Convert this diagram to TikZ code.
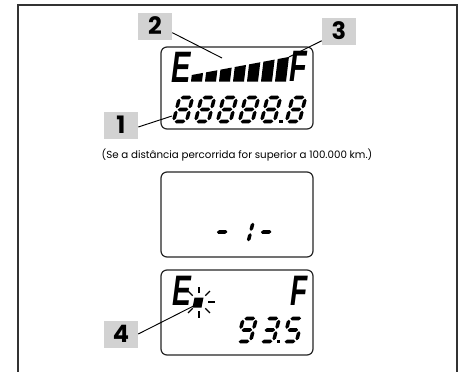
\documentclass[tikz,border=0pt]{standalone}
\usepackage{fontspec}
\setmainfont{Poppins}
\newfontfamily\lcdfont{Liberation Sans}
\newcommand\dW{13}
\newcommand\dH{24}
\newcommand\dG{1.2}
\newcommand\dT{3.6}
\newcommand\lcdhseg[3]{\fill (#1,#3) -- ({#1+\dT/2},{#3-\dT/2}) -- ({#2-\dT/2},{#3-\dT/2}) -- (#2,#3) -- ({#2-\dT/2},{#3+\dT/2}) -- ({#1+\dT/2},{#3+\dT/2}) -- cycle;}
\newcommand\lcdvseg[3]{\fill (#1,#2) -- ({#1+\dT/2},{#2+\dT/2}) -- ({#1+\dT/2},{#3-\dT/2}) -- (#1,#3) -- ({#1-\dT/2},{#3-\dT/2}) -- ({#1-\dT/2},{#2+\dT/2}) -- cycle;}
\newcommand\lcdsega{\lcdhseg{\dG}{\dW-\dG}{-\dH}}
\newcommand\lcdsegb{\lcdvseg{\dW}{-\dH+\dG}{-\dH/2-\dG}}
\newcommand\lcdsegc{\lcdvseg{\dW}{-\dH/2+\dG}{-\dG}}
\newcommand\lcdsegd{\lcdhseg{\dG}{\dW-\dG}{0}}
\newcommand\lcdsege{\lcdvseg{0}{-\dH/2+\dG}{-\dG}}
\newcommand\lcdsegf{\lcdvseg{0}{-\dH+\dG}{-\dH/2-\dG}}
\newcommand\lcdsegg{\lcdhseg{\dG}{\dW-\dG}{-\dH/2}}
\newcommand\lcddigit[3]{\begin{scope}[shift={(#1,#2)},xslant=0.25]\foreach \s in {#3}{\csname lcdseg\s\endcsname}\end{scope}}
\begin{document}
\begin{tikzpicture}[x=0.75pt,y=-0.75pt,
  frame/.style={draw=black!80,line width=1.2pt},
  disp/.style={draw=black!85,line width=0.9pt,rounded corners=4.5pt,minimum width=114pt,inner sep=0pt},
  lbl/.style={fill=gray!35,minimum width=25.5pt,minimum height=20.25pt,inner sep=0pt,font=\fontsize{18}{18}\selectfont\bfseries},
  leader/.style={draw=black,line width=0.7pt},
  lcdtxt/.style={font=\lcdfont\fontsize{33}{33}\selectfont\bfseries\itshape,xscale=0.66,inner sep=0pt,anchor=base},
  ray/.style={draw=black,line width=1pt},
  note/.style={font=\fontsize{7.7}{9}\selectfont}]
\useasboundingbox (0,0) rectangle (459,371);
\fill[white] (0,0) rectangle (459,371);
% outer frame
\draw[frame] (18,372) -- (18,5) -- (457,5) -- (457,372);
% displays
\node[disp,minimum height=61.5pt] (d1) at (237,88) {};
\node[disp,minimum height=63.75pt] (d2) at (237,214.5) {};
\node[disp,minimum height=63.75pt] (d3) at (237,312.5) {};
% display 1: E, bars, F
\node[lcdtxt] (e1) at (181,82) {E};
\node[lcdtxt] (f1) at (298.5,81.5) {F};
\foreach \i in {0,...,6}{
  \pgfmathsetmacro\xl{191+14*\i}
  \pgfmathsetmacro\xr{\xl+11}
  \pgfmathsetmacro\yl{75-0.19*(\xl-191)}
  \pgfmathsetmacro\yr{75-0.19*(\xr-191)}
  \fill (\xl,81.5) -- (\xr,81.5) -- ({\xr+0.12*(81.5-\yr)},\yr) -- ({\xl+0.12*(81.5-\yl)},\yl) -- cycle;
}
% display 1 digits 88888.8
\foreach \x in {173.5,195.5,217.5,239.5,261.5,286.5}{\lcddigit{\x}{121.5}{a,b,c,d,e,f,g}}
\fill (279.3,119.7) rectangle (282.7,123.2);
% display 2: - 1-
\def\dH{21}
\lcddigit{213}{242.5}{g}
\lcddigit{235}{242.5}{b,c}
\lcddigit{257}{242.5}{g}
% display 3
\def\dH{23}
\node[lcdtxt,font=\lcdfont\fontsize{32}{32}\selectfont\bfseries\itshape] (e3) at (181.5,305) {E};
\node[lcdtxt,font=\lcdfont\fontsize{32}{32}\selectfont\bfseries\itshape] (f3) at (299.5,305) {F};
\fill (192.5,307.5) -- (201.5,307.5) -- (203.5,297.5) -- (194.5,297.5) -- cycle;
\begin{scope}[shift={(199,302)}]
  \foreach \a in {0,45,90,135,-45,-90,-135} \draw[ray] (\a:9) -- (\a:15.5);
\end{scope}
\lcddigit{237.5}{341.5}{a,b,c,d,f,g}
\lcddigit{260.5}{341.5}{a,b,c,d,g}
\lcddigit{283.5}{341.5}{a,c,d,f,g}
\fill (276.8,339.7) rectangle (280.2,343.2);
% note
\node[note] (n) at (237,155) {(Se a distância percorrida for superior a 100.000 km.)};
% labels
\node[lbl] (l1) at (121,125) {1};
\node[lbl] (l2) at (155,26) {2};
\node[lbl] (l3) at (339,31) {3};
\node[lbl] (l4) at (121,334) {4};
\coordinate (t1) at (172,116);
\coordinate (t2) at (222,58);
\coordinate (t3) at (289,57);
\coordinate (t4) at (193.5,306);
\draw[leader] ([yshift=-1.5pt]l1.east) -- (t1);
\draw[leader] ([yshift=-5pt]l2.east) -- (t2);
\draw[leader] ([yshift=3pt]l3.south west) -- (t3);
\draw[leader] (l4.east) -- (t4);
\end{tikzpicture}
\end{document}
